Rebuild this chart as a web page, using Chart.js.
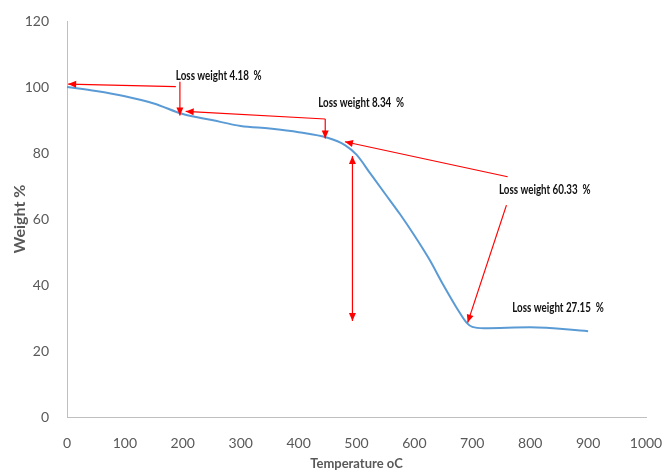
<!DOCTYPE html>
<html>
<head>
<meta charset="utf-8">
<script src="https://cdn.jsdelivr.net/npm/chart.js@4/dist/chart.umd.min.js"></script>
<style>
  html, body { margin: 0; padding: 0; background: #fff; }
  #wrap { width: 664px; height: 470px; }
</style>
</head>
<body>
<div id="wrap"><canvas id="tgaChart" width="664" height="470"></canvas></div>
<script>
// TGA curve
const temperature = [0, 50, 100, 150, 200, 250, 300, 350, 400, 450, 480, 500, 525, 550, 575, 600, 625, 650, 675, 690, 700, 720, 800, 900];
const weight = [100, 98.8, 97.2, 95, 91.8, 90, 88.2, 87.4, 86.3, 84.6, 82.4, 79.5, 73.5, 67.5, 61.5, 55, 48, 40, 32.5, 28.6, 27.3, 26.9, 27.2, 26];

const xTicks = [0, 100, 200, 300, 400, 500, 600, 700, 800, 900, 1000];
const yTicks = [0, 20, 40, 60, 80, 100, 120];

// annotation arrows: [from, to, heads]  (temperature, weight)
const arrowFrom = [[188, 100.1], [195, 101.6], [446, 90.3], [446, 90.3], [761, 72.8], [493, 29.1], [759, 64.2]];
const arrowTo   = [[2, 100.9],   [195, 91.4],  [205, 92.6], [446, 84.4], [480, 83.4], [493, 79.1], [692, 28.6]];
const arrowHeads = ['end', 'end', 'end', 'end', 'end', 'both', 'end'];

const labelText = ['Loss weight 4.18  %', 'Loss weight 8.34  %', 'Loss weight 60.33  %', 'Loss weight 27.15  %'];
const labelPos = [[188, 103.6], [434, 95.2], [746, 68.8], [769, 33.3]];

function head(ctx, x1, y1, x2, y2) {
  const a = Math.atan2(y2 - y1, x2 - x1);
  const len = 8, w = 3.5;
  ctx.beginPath();
  ctx.moveTo(x2, y2);
  ctx.lineTo(x2 - len * Math.cos(a) + w * Math.sin(a), y2 - len * Math.sin(a) - w * Math.cos(a));
  ctx.lineTo(x2 - len * Math.cos(a) - w * Math.sin(a), y2 - len * Math.sin(a) + w * Math.cos(a));
  ctx.closePath();
  ctx.fill();
}

const annotations = {
  id: 'annotations',
  afterDatasetsDraw(chart) {
    const ctx = chart.ctx;
    const xs = chart.scales.x, ys = chart.scales.y;
    ctx.save();
    ctx.strokeStyle = '#ff0000';
    ctx.fillStyle = '#ff0000';
    ctx.lineWidth = 1.2;
    arrowFrom.forEach((f, i) => {
      const t = arrowTo[i];
      const x1 = xs.getPixelForValue(f[0]), y1 = ys.getPixelForValue(f[1]);
      const x2 = xs.getPixelForValue(t[0]), y2 = ys.getPixelForValue(t[1]);
      ctx.beginPath();
      ctx.moveTo(x1, y1);
      ctx.lineTo(x2, y2);
      ctx.stroke();
      head(ctx, x1, y1, x2, y2);
      if (arrowHeads[i] === 'both') head(ctx, x2, y2, x1, y1);
    });
    // narrow label text, squeezed horizontally
    ctx.fillStyle = '#111';
    ctx.font = "bold 14px Lato, sans-serif";
    ctx.textAlign = 'left';
    ctx.textBaseline = 'middle';
    labelText.forEach((txt, i) => {
      const px = xs.getPixelForValue(labelPos[i][0]), py = ys.getPixelForValue(labelPos[i][1]);
      ctx.save();
      ctx.translate(px, py);
      ctx.scale(0.7, 1);
      ctx.fillText(txt, 0, 0);
      ctx.restore();
    });
    ctx.restore();
  }
};

const tickFont = { family: 'Lato, sans-serif', size: 14 };

new Chart(document.getElementById('tgaChart'), {
  type: 'line',
  data: {
    datasets: [{
      data: temperature.map((t, i) => ({ x: t, y: weight[i] })),
      borderColor: '#5b9bd5',
      borderWidth: 2,
      pointRadius: 0,
      cubicInterpolationMode: 'monotone',
      fill: false
    }]
  },
  options: {
    responsive: false,
    animation: false,
    layout: { padding: { top: 21, right: 18, left: 0, bottom: 0 } },
    plugins: { legend: { display: false }, tooltip: { enabled: false } },
    scales: {
      x: {
        type: 'linear',
        min: 0, max: 1000,
        afterBuildTicks: s => { s.ticks = xTicks.map(v => ({ value: v })); },
        afterFit: s => { s.height = 53; s.paddingLeft = 0; s.paddingRight = 0; },
        grid: { display: false },
        border: { display: true, color: '#bfbfbf', width: 1 },
        ticks: { color: '#595959', font: tickFont, padding: 10, maxRotation: 0, callback: v => String(v) },
        title: {
          display: true, text: 'Temperature oC', color: '#595959',
          font: { family: 'Lato, sans-serif', size: 13, weight: 'bold', lineHeight: 1.0 },
          padding: { top: 0, bottom: 0 }
        }
      },
      y: {
        min: 0, max: 120,
        afterBuildTicks: s => { s.ticks = yTicks.map(v => ({ value: v })); },
        afterFit: s => { s.width = 67; },
        grid: { display: false },
        border: { display: true, color: '#bfbfbf', width: 1 },
        ticks: { color: '#595959', font: tickFont, padding: 10 },
        title: {
          display: true, text: 'Weight %', color: '#595959',
          font: { family: 'Lato, sans-serif', size: 16, weight: 'bold' },
          padding: { top: 10, bottom: 0 }
        }
      }
    }
  },
  plugins: [annotations]
});
</script>
</body>
</html>
